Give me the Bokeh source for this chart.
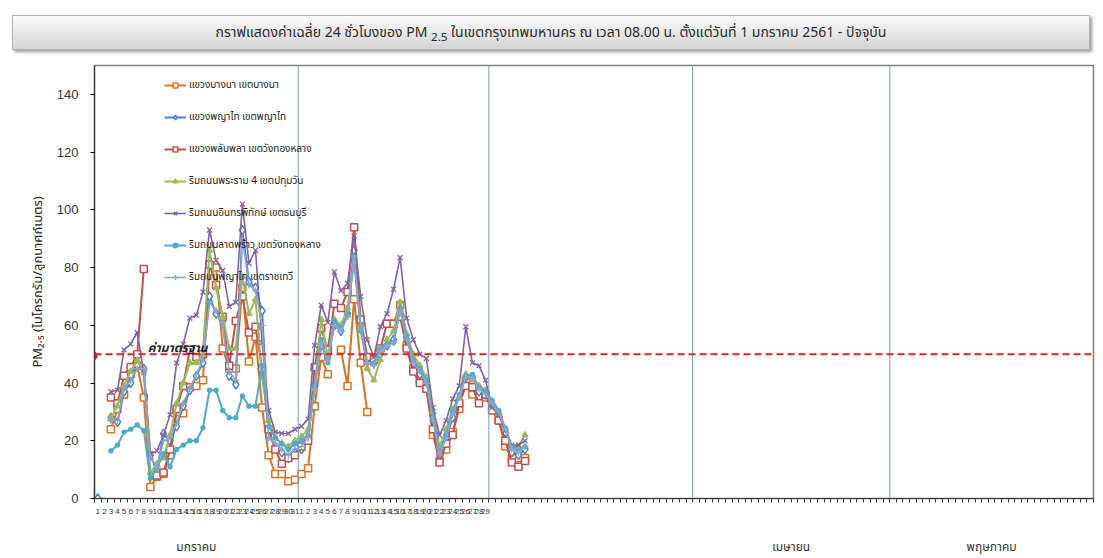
import numpy as np
from bokeh.plotting import figure
from bokeh.models import (Range1d, FixedTicker, LinearAxis, Span, Label, Legend,
                          LegendItem, Div, ColumnDataSource)
from bokeh.layouts import column
from bokeh.embed import file_html
from bokeh.resources import INLINE

# ---------------- data ----------------
title_html = ("กราฟแสดงค่าเฉลี่ย 24 ชั่วโมงของ PM <sub>2.5</sub> ในเขตกรุงเทพมหานคร "
              "ณ เวลา 08.00 น. ตั้งแต่วันที่ 1 มกราคม 2561 - ปัจจุบัน")
y_label = "PM₂.₅ (ไมโครกรัม/ลูกบาศก์เมตร)"
standard_label = "ค่ามาตรฐาน"
standard_value = 50

month_names = ["มกราคม", "", "", "เมษายน", "พฤษภาคม"]
month_lengths = [31, 29, 31, 30, 31]
labeled_months = 2  # day numbers are shown for January and February only

N = None
series_names = [
    "แขวงบางนา เขตบางนา",
    "แขวงพญาไท เขตพญาไท",
    "แขวงพลับพลา เขตวังทองหลาง",
    "ริมถนนพระราม 4 เขตปทุมวัน",
    "ริมถนนอินทรพิทักษ์ เขตธนบุรี",
    "ริมถนนลาดพร้าว เขตวังทองหลาง",
    "ริมถนนพญาไท เขตราชเทวี",
]

bangna = [N, N, 24, 31, 36, 43, 46, 35, 4, 7.5, 8.5, 15, 30, 29.5, 38.5, 39, 41, 81, 80, 52,
          45, 45, 73, 47.5, 56, 31.5, 15, 8.5, 8.5, 6, 6.5, 8.5, 10.5, 32, 49, 43, N, 51.5, 39, 69,
          47, 30, N, N, 60.5, 60.5, 67, 53, 45, 41, 38, 22, 13, 17, 23, 31, 41, 36, 35, 35,
          31, 27, 18, 14, 11.5, 14]
phayathai = [0, N, 28, 26.5, 37, 40, 46, 45, 15, 9.5, 22.5, 20, 25, 32, 37.5, 42.5, 47, 70, 64, 61.5,
             42.5, 39.5, 93, 75, 73, 65, 22, 18, 16, 14, 16, 17, 21, 39, 53, 49, 60, 58, 64, 86,
             60, 48, 47, 50, 53, 55, 65, 55, 47, 43, 40, 27, 15, 21, 28, 34, 42, 42, 37, 36,
             32, 29, 23, 16, 15, 17]
phlapphla = [N, N, 35, 33, 42.5, 45.5, 50, 79.5, N, 8, 9, 17, 31, 39, 51.5, 49, 50, 81, 74, 63,
             46, 61.5, 70, 57.5, 59.5, 45, 24, 17, 12, 14, 15, 18, 20, 45.5, 59, 51.5, 67.5, 66, 71.5, 94,
             62, 49, 48, 52, 60.5, 60.5, 63, 52, 44, 40, 38, 24, 12.5, 19, 22, 33, 39, 38.5, 33, 36,
             30.5, 27, 20, 12.5, 11, 13]
rama4 = [N, N, 28, 32, 39, 44, 48, 44, 9, 12, 14, 22, 33, 40, 47, 47, 50, 86, 73, 63,
         52, 52, 77, 64, 69, 42, 27, 21, 19, 18, 20, 21.5, 24, 38, 62, 49, 62, 60, 66, 82,
         60, 45, 41, 48, 55, 58, 68, 57, 50, 46, 42, 30, 18, 24, 31, 35, 43, 41, 39, 37.5,
         33, 29.5, 24, 17.5, 18, 22]
inthraphithak = [N, N, 37, 37.5, 51.5, 53.5, 57.5, 43.5, 15.5, 16.5, 22, 29, 47, 53.5, 62.5, 63.5, 71.5, 93, 82.5, 79,
                 66.5, 68, 102, 81.5, 86, 54, 30.5, 23, 22.5, 22.5, 24, 25, 27.5, 53, 67, 61, 78.5, 72, 74.5, 91,
                 70, 55, 49, 59.5, 64, 72.5, 83.5, 62.5, 55, 50, 48.5, 31.5, 22, 27, 34.5, 39, 59.5, 47, 46, 41,
                 31.5, 29, 23.5, 18.5, 18.5, 20]
ladprao = [N, N, 16.5, 18.5, 23, 24, 25.5, 23.5, 7, 10.5, 15.5, 11, 17, 18.5, 20, 20, 24.5, 37.5, 37.5, 30.5,
           28, 28, 35.5, 32, 32, 46, 25, 21, 19, 17, 19, 20, 22, 39, 55, 47, 61.5, 59, 63.5, 83.5,
           58, 47, 47, 52, 53.5, 54, 66, 56, 48, 45, 41, 28, 16, 22, 30, 36, 42.5, 43, 38.5, 37,
           34, 30.5, 24.5, 18, 16.5, 18]
ratchathewi = [N, N, 27, 27, 38, 41, 45, 45, 14, 11, 20, 21, 26, 33, 38, 43, 48, 68, 65, 60,
               44, 41, 90, 74, 72, 60, 21, 19, 17, 15, 17, 18, 21, 38, 54, 48, 60, 58, 63, 84,
               59, 47, 46, 51, 53, 54, 65, 55, 47, 44, 40, 27, 15, 21, 29, 35, 42, 42, 38, 36,
               33, 30, 24, 17, 16, 18]

series_values = [bangna, phayathai, phlapphla, rama4, inthraphithak, ladprao, ratchathewi]

# ---------------- styles ----------------
colors = ["#DF7020", "#4F81BD", "#C0504D", "#9BBB59", "#8064A2", "#4BACC6", "#8AA5D6"]
markers = ["square", "diamond", "square", "triangle", "x", "circle", "cross"]
msizes = [7, 9, 7, 6, 7, 4, 7]
mfill = ["white", "white", "white", None, None, None, None]
lwidths = [2, 2, 2, 2, 1.6, 2, 1.6]

THAI = "Noto Sans Thai, Noto Sans, Tahoma, sans-serif"

total_days = sum(month_lengths)

p = figure(width=1103, height=500, output_backend="svg", toolbar_location=None,
           x_range=Range1d(-0.5, total_days - 0.5), y_range=Range1d(0, 150),
           min_border_left=94, min_border_right=10, min_border_top=7, min_border_bottom=60,
           margin=0)
p.xgrid.visible = False
p.ygrid.visible = False
p.outline_line_color = "#808080"
p.outline_line_width = 1.5
p.background_fill_color = "white"
p.border_fill_color = "white"

# day ticks / labels
starts = np.cumsum([0] + month_lengths[:-1])
overrides = {}
for m in range(len(month_lengths)):
    for d in range(month_lengths[m]):
        idx = int(starts[m] + d)
        overrides[idx] = str(d + 1) if m < labeled_months else ""
xa = p.xaxis[0]
xa.ticker = FixedTicker(ticks=list(range(total_days)),
                        minor_ticks=[k - 0.5 for k in range(total_days + 1)])
xa.major_label_overrides = overrides
xa.major_tick_out = 0
xa.major_tick_in = 0
xa.minor_tick_out = 4
xa.minor_tick_in = 0
xa.minor_tick_line_color = "#333333"
xa.axis_line_color = "#333333"
xa.axis_line_width = 1.2
xa.major_label_text_font_size = "8px"
xa.major_label_text_font = "Liberation Sans"
xa.major_label_text_color = "#333333"
xa.major_label_standoff = 6

# month labels axis
centers = [float(starts[m] + month_lengths[m] / 2 - 0.5) for m in range(len(month_lengths))]
ma = LinearAxis(ticker=FixedTicker(ticks=centers),
                major_label_overrides={c: n for c, n in zip(centers, month_names)})
ma.axis_line_color = None
ma.major_tick_out = 0
ma.major_tick_in = 0
ma.minor_tick_out = 0
ma.minor_tick_in = 0
ma.major_label_text_font_size = "12px"
ma.major_label_text_font = THAI
ma.major_label_text_color = "#333333"
ma.major_label_standoff = 21
p.add_layout(ma, "below")

# y axis
ya = p.yaxis[0]
ya.ticker = FixedTicker(ticks=[0, 20, 40, 60, 80, 100, 120, 140])
ya.minor_tick_out = 0
ya.minor_tick_in = 0
ya.major_tick_out = 4
ya.major_tick_in = 0
ya.axis_line_color = "#333333"
ya.axis_line_width = 1.2
ya.major_label_text_font = "Liberation Sans"
ya.major_label_text_font_size = "13px"
ya.major_label_text_color = "#333333"
ya.major_label_standoff = 12
ya.axis_label = y_label
ya.axis_label_text_font = THAI
ya.axis_label_text_font_size = "13px"
ya.axis_label_text_font_style = "normal"
ya.axis_label_text_color = "#222222"
ya.axis_label_standoff = 6

# month separators
for m in range(1, len(month_lengths)):
    p.add_layout(Span(location=float(starts[m]) - 0.5, dimension="height",
                      line_color="#7F9DBF", line_width=1))

# standard line
p.add_layout(Span(location=standard_value, dimension="width", line_color="#D9262B",
                  line_width=2, line_dash="7 4"))
p.add_layout(Label(x=-0.5, y=standard_value, text="●", text_color="#E01818",
                   text_font="DejaVu Sans", text_font_size="13px", text_align="center",
                   text_baseline="middle", x_offset=-2, level="overlay"))
p.add_layout(Label(x=7.6, y=standard_value + 2.3, text=standard_label, text_font=THAI,
                   text_font_size="12px", text_font_style="bold italic", text_color="#222222",
                   text_baseline="alphabetic"))

items = []
for name, vals, c, mk, ms, mf, lw in zip(series_names, series_values, colors, markers,
                                         msizes, mfill, lwidths):
    x = np.arange(len(vals))
    y = np.array(vals, dtype=float)
    src = ColumnDataSource(dict(x=x, y=y))
    lr = p.line("x", "y", source=src, line_color=c, line_width=lw)
    if mf is None:
        sr = p.scatter("x", "y", source=src, marker=mk, size=ms, line_color=c,
                       fill_color=c, line_width=1.3)
    else:
        sr = p.scatter("x", "y", source=src, marker=mk, size=ms, line_color=c,
                       fill_color=mf, line_width=1.5)
    items.append(LegendItem(label=name, renderers=[lr, sr]))

legend = Legend(items=items, location=(70, 211))
legend.background_fill_alpha = 0
legend.border_line_color = None
legend.padding = 0
legend.margin = 0
legend.spacing = 11
legend.glyph_height = 12
legend.glyph_width = 22
legend.label_height = 21
legend.label_standoff = 3
legend.label_text_font = THAI
legend.label_text_font_size = "10px"
legend.label_text_color = "#222222"
p.add_layout(legend)

div = Div(text=(
    '<div style="margin:15px 0 0 12px; width:1078px; height:35px; '
    'background:linear-gradient(#fbfbfb,#d4d4d4); border:1px solid #b5b5b5; '
    'box-shadow:2px 2px 3px #9a9a9a; text-align:center; line-height:33px; '
    'font-family:\'Noto Sans Thai\',\'Noto Sans\',Tahoma,sans-serif; font-size:14px; '
    'color:#2a2a2a;">' + title_html + '</div>'),
    width=1103, height=58, margin=0)

layout = column(div, p, spacing=0)
open("out.html", "w").write(file_html(layout, INLINE))
